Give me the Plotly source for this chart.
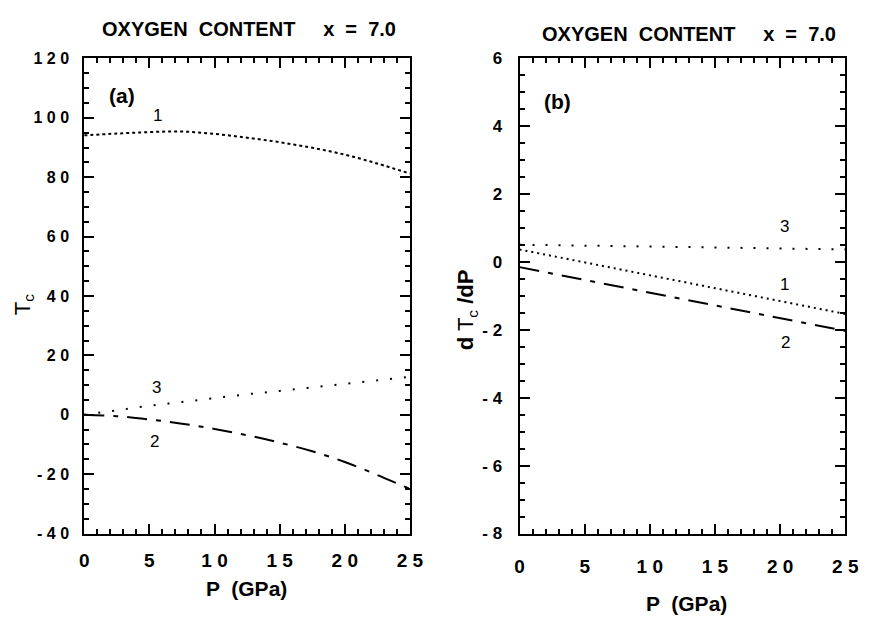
import plotly.graph_objects as go

# ---------------- data ----------------
P_a = [0, 2.5, 5, 7.5, 10, 12.5, 15, 17.5, 20, 22.5, 25]
Tc_curve1 = [94.1, 94.7, 95.2, 95.4, 94.6, 93.3, 91.8, 89.9, 87.6, 84.6, 81.2]
Tc_curve2 = [0.0, -0.5, -1.6, -3.0, -4.8, -6.9, -9.4, -12.3, -15.9, -20.3, -25.0]
Tc_curve3 = [0.0, 1.5, 3.0, 4.3, 5.6, 6.9, 8.0, 9.2, 10.4, 11.6, 12.8]

P_b = [0, 5, 10, 15, 20, 25]
dTc_curve1 = [0.37, -0.01, -0.39, -0.77, -1.15, -1.53]
dTc_curve2 = [-0.15, -0.53, -0.90, -1.28, -1.65, -2.03]
dTc_curve3 = [0.51, 0.49, 0.46, 0.43, 0.40, 0.37]

x_tickvals = [0, 5, 10, 15, 20, 25]
x_ticktext = ["0", "5", "1 0", "1 5", "2 0", "2 5"]
ya_tickvals = [-40, -20, 0, 20, 40, 60, 80, 100, 120]
ya_ticktext = ["- 4 0", "- 2 0", "0", "2 0", "4 0", "6 0", "8 0", "1 0 0", "1 2 0"]
yb_tickvals = [-8, -6, -4, -2, 0, 2, 4, 6]
yb_ticktext = ["- 8", "- 6", "- 4", "- 2", "0", "2", "4", "6"]

title_text = "OXYGEN  CONTENT     x  =  7.0"

FONT = "Liberation Sans, Arial, sans-serif"
W, H = 871, 623

def px(x):
    return x / W

def py(y):
    return 1 - y / H

fig = go.Figure()

# panel (a)
fig.add_trace(go.Scatter(x=P_a, y=Tc_curve1, mode="lines", xaxis="x", yaxis="y",
                         line=dict(color="black", width=2, dash="3px,3px"), line_shape="spline"))
fig.add_trace(go.Scatter(x=P_a, y=Tc_curve3, mode="lines", xaxis="x", yaxis="y",
                         line=dict(color="black", width=2, dash="2px,12px"), line_shape="spline"))
fig.add_trace(go.Scatter(x=P_a, y=Tc_curve2, mode="lines", xaxis="x", yaxis="y",
                         line=dict(color="black", width=2, dash="20px,9px,5px,9px"), line_shape="spline"))

# panel (b)
fig.add_trace(go.Scatter(x=P_b, y=dTc_curve3, mode="lines", xaxis="x2", yaxis="y2",
                         line=dict(color="black", width=2, dash="2px,11px")))
fig.add_trace(go.Scatter(x=P_b, y=dTc_curve1, mode="lines", xaxis="x2", yaxis="y2",
                         line=dict(color="black", width=2, dash="2px,4px")))
fig.add_trace(go.Scatter(x=P_b, y=dTc_curve2, mode="lines", xaxis="x2", yaxis="y2",
                         line=dict(color="black", width=2, dash="20px,9px,5px,9px")))

def xaxis(domain, standoff, anchor):
    return dict(domain=domain, range=[0, 25], anchor=anchor,
                tickmode="array", tickvals=x_tickvals, ticktext=x_ticktext,
                ticks="inside", ticklen=10, tickwidth=2, tickcolor="black",
                minor=dict(dtick=1, ticks="inside", ticklen=5, tickwidth=1.5, tickcolor="black"),
                showline=True, linewidth=2, linecolor="black", mirror="allticks",
                showgrid=False, zeroline=False,
                tickfont=dict(family=FONT, size=19, color="black", weight="bold"),
                ticklabelstandoff=standoff)

def yaxis(domain, rng, vals, text, dminor, anchor, standoff, size):
    return dict(domain=domain, range=rng, anchor=anchor,
                tickmode="array", tickvals=vals, ticktext=text,
                ticks="inside", ticklen=10, tickwidth=2, tickcolor="black",
                minor=dict(dtick=dminor, ticks="inside", ticklen=5, tickwidth=1.5, tickcolor="black"),
                showline=True, linewidth=2, linecolor="black", mirror="allticks",
                showgrid=False, zeroline=False,
                tickfont=dict(family=FONT, size=size, color="black", weight="bold"),
                ticklabelstandoff=standoff)

yd = [py(541), py(51)]
fig.update_layout(
    width=W, height=H,
    margin=dict(l=0, r=0, t=0, b=0),
    paper_bgcolor="white", plot_bgcolor="white",
    showlegend=False,
    xaxis=xaxis([px(81), px(414)], 9, "y"),
    yaxis=yaxis(yd, [-40, 120], ya_tickvals, ya_ticktext, 5, "x", 10, 16),
    xaxis2=xaxis([px(526), px(859)], 15, "y2"),
    yaxis2=yaxis(yd, [-8, 6], yb_tickvals, yb_ticktext, 0.5, "x2", 12, 17),
)

ann = []
def add_text(x, y, text, size, bold=True, angle=0):
    ann.append(dict(x=px(x), y=py(y), xref="paper", yref="paper", text=text,
                    showarrow=False, textangle=angle, xanchor="center", yanchor="middle",
                    font=dict(family=FONT, size=size, color="black",
                              weight="bold" if bold else "normal")))

add_text(249, 21, title_text, 20)
add_text(699, 26, title_text, 20)
add_text(120, 89, "(a)", 21)
add_text(565, 95, "(b)", 21)
add_text(247, 598, "P  (GPa)", 21)
add_text(697, 613, "P  (GPa)", 21)
add_text(19, 305, "T<sub>c</sub>", 22, bold=False, angle=-90)
add_text(472, 310, "<b>d</b> T<sub>c</sub> <b>/dP</b>", 22, bold=False, angle=-90)
# curve labels
add_text(156, 110, "1", 17, bold=False)
add_text(155, 390, "3", 17, bold=False)
add_text(153, 446, "2", 17, bold=False)
add_text(797, 224, "3", 17, bold=False)
add_text(797, 284, "1", 17, bold=False)
add_text(798, 344, "2", 17, bold=False)

fig.update_layout(annotations=ann)
fig.write_html("out.html")
